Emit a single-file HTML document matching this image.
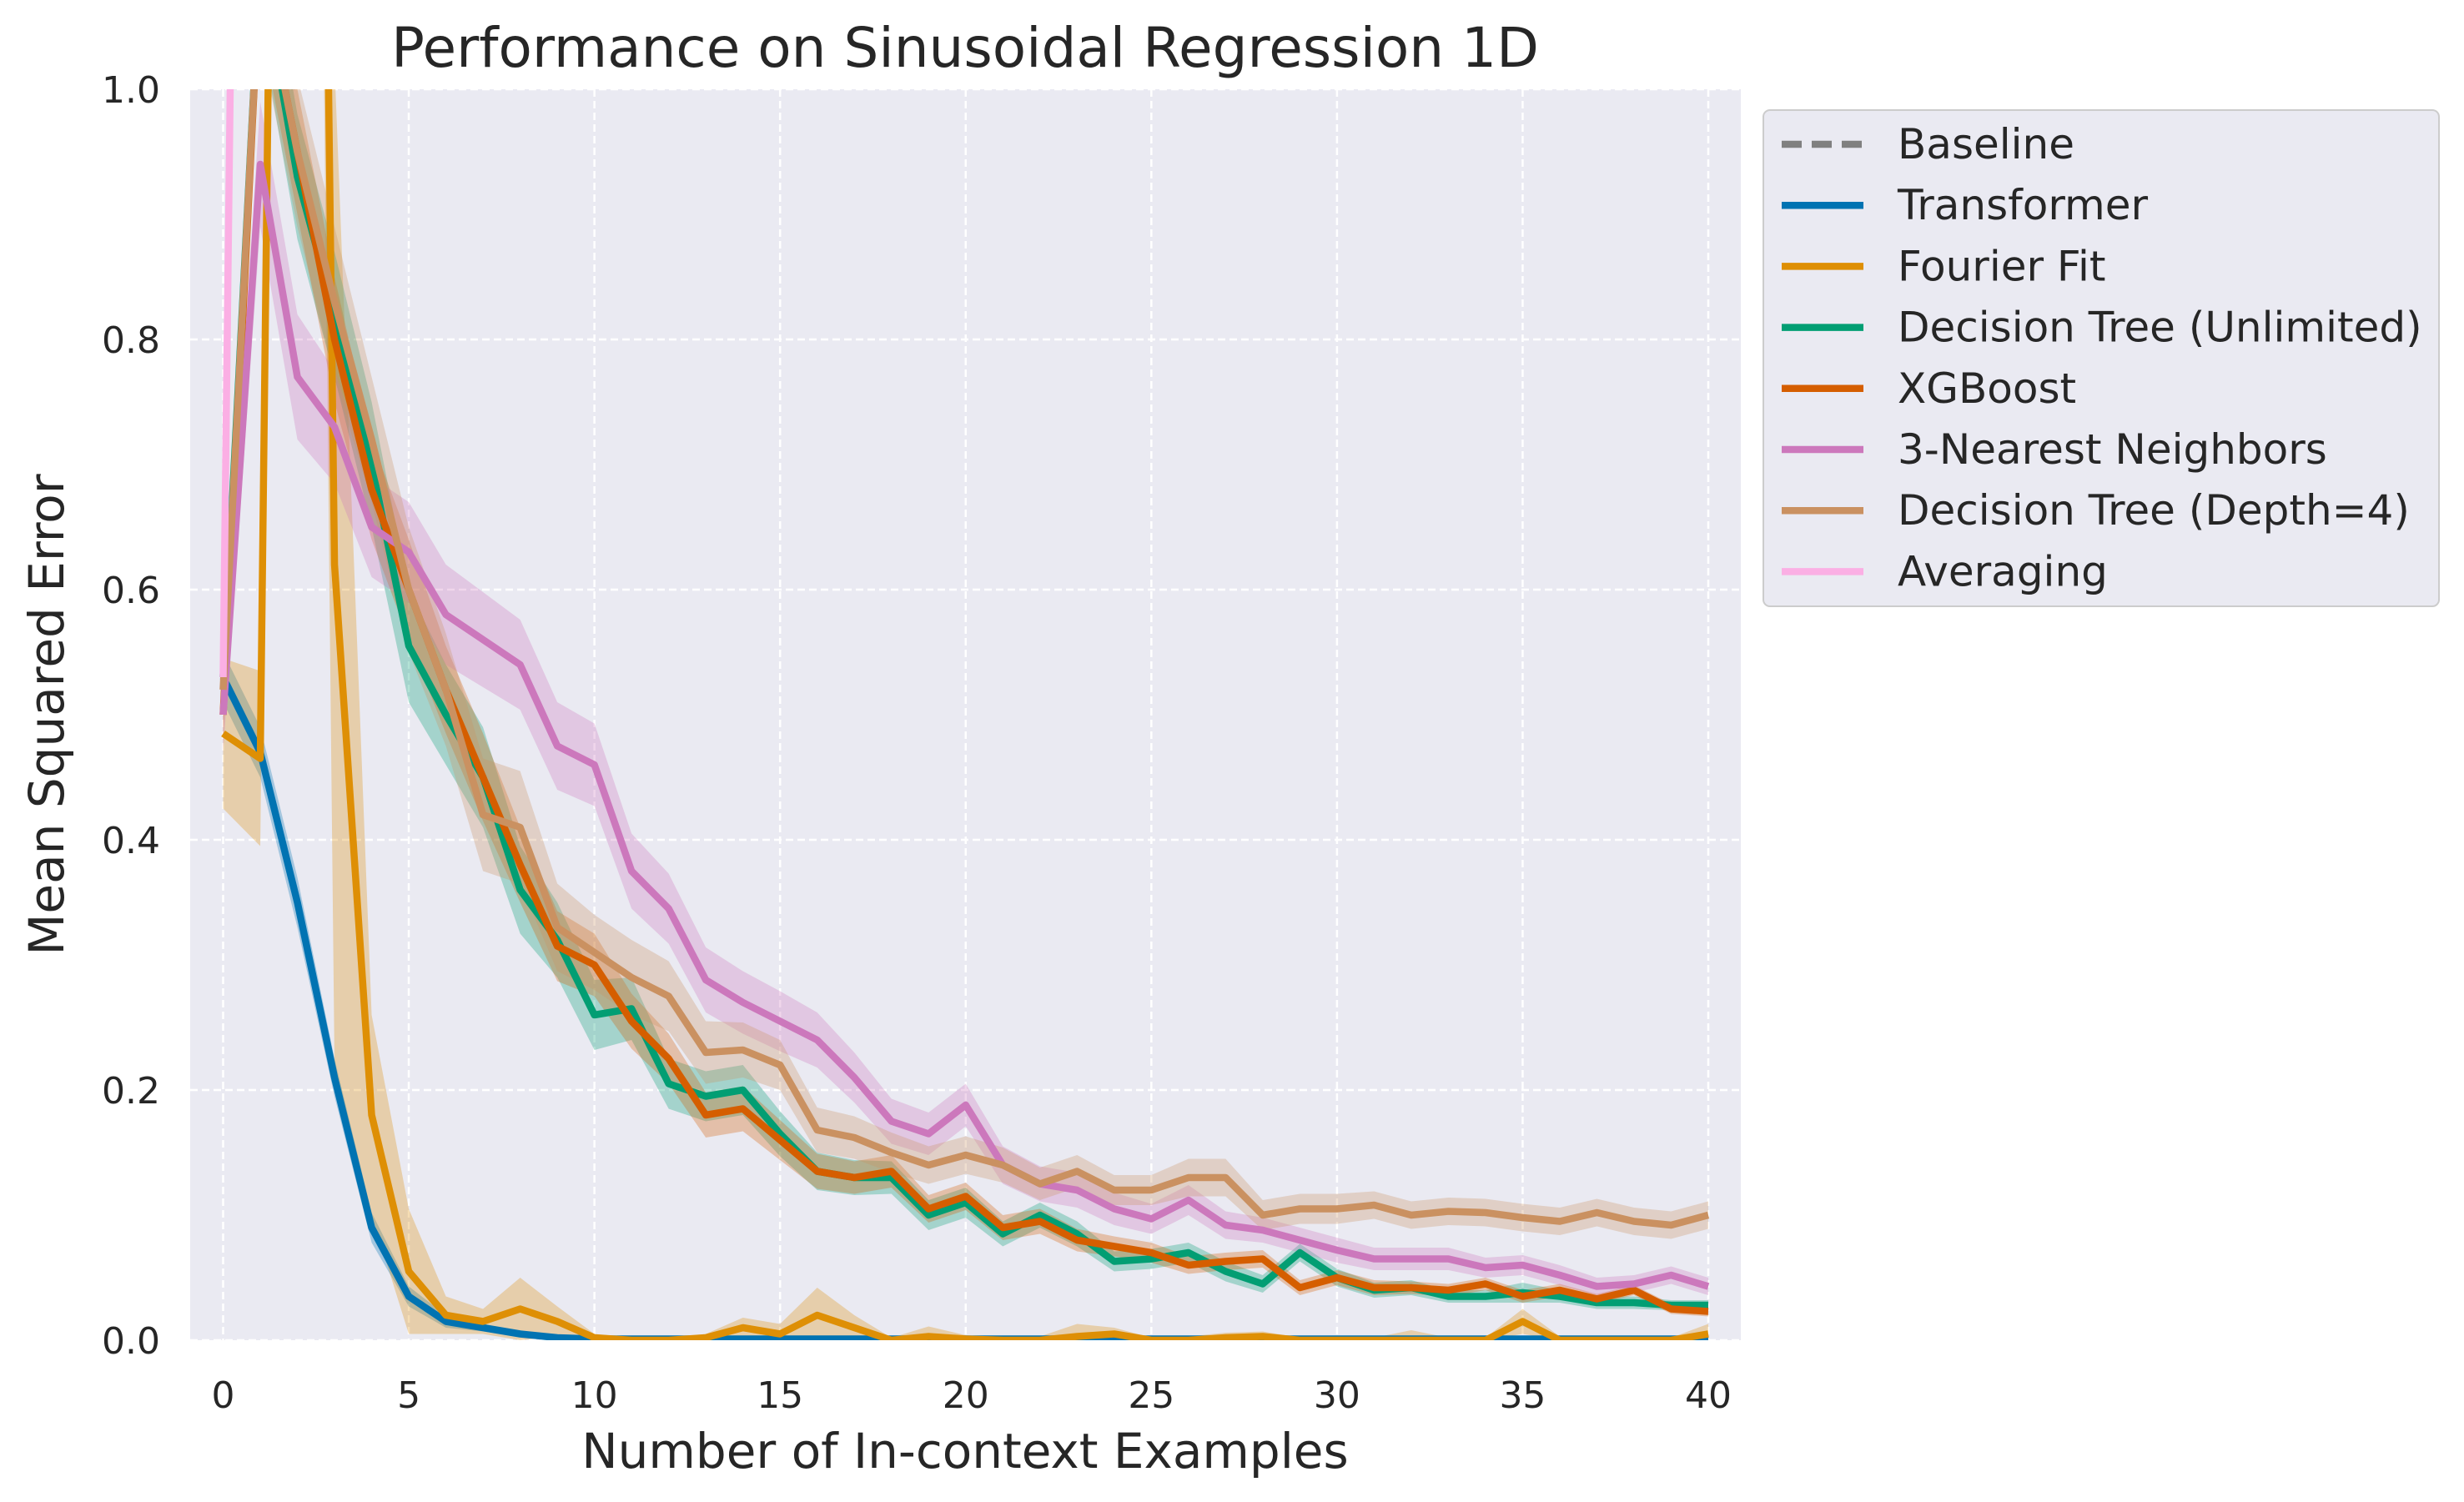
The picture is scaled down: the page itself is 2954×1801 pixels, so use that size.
<!DOCTYPE html>
<html><head><meta charset="utf-8"><style>
html,body{margin:0;padding:0;background:#fff}
svg{display:block;font-family:"DejaVu Sans","Liberation Sans",sans-serif}
</style></head><body>
<svg id="chart" width="2954" height="1801" viewBox="0 0 2954 1801" xmlns="http://www.w3.org/2000/svg">
<defs><clipPath id="plotclip"><rect x="228" y="107" width="1859" height="1500"/></clipPath></defs>
<rect x="228" y="107" width="1859" height="1500" fill="#eaeaf2"/>
<g id="grid"></g>
<g id="bands" clip-path="url(#plotclip)"></g>
<g id="lines" clip-path="url(#plotclip)"></g>
<g id="ticks" font-size="44" fill="#262626"></g>
<text x="1157" y="80" font-size="66" text-anchor="middle" fill="#262626">Performance on Sinusoidal Regression 1D</text>
<text x="1157" y="1760" font-size="58" text-anchor="middle" fill="#262626">Number of In-context Examples</text>
<text transform="translate(76,857) rotate(-90)" font-size="58" text-anchor="middle" fill="#262626">Mean Squared Error</text>
<g id="legend"></g>
</svg>
<script>
const xTicks=[0,5,10,15,20,25,30,35,40];
const yTicks=[0,0.2,0.4,0.6,0.8,1.0];
const yTickLabels=["0.0","0.2","0.4","0.6","0.8","1.0"];
const xs=[0,1,2,3,4,5,6,7,8,9,10,11,12,13,14,15,16,17,18,19,20,21,22,23,24,25,26,27,28,29,30,31,32,33,34,35,36,37,38,39,40];
const transformer=[0.53,0.47,0.35,0.21,0.09,0.035,0.015,0.01,0.005,0.002,0.001,0.001,0.001,0.001,0.001,0.001,0.001,0.001,0.001,0.001,0.001,0.001,0.001,0.001,0.001,0.001,0.001,0.001,0.001,0.001,0.001,0.001,0.001,0.001,0.001,0.001,0.001,0.001,0.001,0.001,0.001];
const transformerErr=[0.02,0.02,0.02,0.015,0.012,0.008,0.005,0.003,0.002,0.001,0,0,0,0,0,0,0,0,0,0,0,0,0,0,0,0,0,0,0,0,0,0,0,0,0,0,0,0,0,0,0];
const fourier=[0.485,0.465,10,0.62,0.18,0.055,0.02,0.015,0.025,0.015,0.002,0,0,0.002,0.01,0.005,0.02,0.01,0,0.003,0.001,0,0,0.003,0.005,0,0,0.002,0.003,0,0,0,0,0,0,0.015,0,0,0,0,0.005];
const fourierErr=[0.06,0.07,2,0.4,0.08,0.05,0.015,0.01,0.025,0.012,0.003,0.002,0.002,0.003,0.008,0.008,0.022,0.01,0.002,0.008,0.003,0.002,0.003,0.01,0.005,0.002,0.003,0.004,0.004,0.002,0.002,0.002,0.008,0.002,0.002,0.01,0.003,0.002,0.003,0.002,0.008];
const dtUnlimited=[0.53,1.1,0.93,0.82,0.7,0.555,0.5,0.45,0.36,0.32,0.26,0.265,0.205,0.195,0.2,0.165,0.135,0.13,0.13,0.1,0.11,0.085,0.1,0.085,0.063,0.065,0.07,0.055,0.045,0.07,0.05,0.04,0.042,0.035,0.035,0.038,0.035,0.03,0.03,0.028,0.028];
const dtUnlimitedErr=[0.02,0.05,0.05,0.05,0.05,0.045,0.04,0.04,0.035,0.03,0.028,0.025,0.02,0.02,0.02,0.018,0.015,0.014,0.013,0.012,0.012,0.01,0.01,0.01,0.008,0.008,0.008,0.008,0.007,0.007,0.007,0.006,0.006,0.005,0.005,0.008,0.005,0.005,0.005,0.004,0.004];
const xgboost=[0.5,1.1,0.95,0.8,0.68,0.6,0.52,0.45,0.38,0.315,0.3,0.255,0.225,0.18,0.185,0.16,0.135,0.13,0.135,0.105,0.115,0.09,0.095,0.08,0.075,0.07,0.06,0.063,0.065,0.042,0.05,0.042,0.042,0.04,0.045,0.035,0.04,0.033,0.04,0.025,0.023];
const xgboostErr=[0.02,0.05,0.05,0.05,0.04,0.04,0.035,0.035,0.03,0.028,0.025,0.022,0.02,0.018,0.018,0.016,0.014,0.013,0.013,0.011,0.011,0.01,0.01,0.009,0.008,0.008,0.007,0.007,0.007,0.006,0.006,0.006,0.005,0.005,0.005,0.005,0.005,0.004,0.004,0.004,0.004];
const knn3=[0.5,0.94,0.77,0.73,0.65,0.63,0.58,0.56,0.54,0.475,0.46,0.375,0.345,0.288,0.27,0.255,0.24,0.21,0.175,0.165,0.188,0.14,0.125,0.12,0.105,0.097,0.112,0.092,0.088,0.08,0.072,0.065,0.065,0.065,0.058,0.06,0.052,0.043,0.045,0.052,0.043];
const knn3Err=[0.03,0.05,0.05,0.045,0.04,0.04,0.04,0.038,0.036,0.035,0.033,0.03,0.028,0.026,0.025,0.024,0.022,0.02,0.018,0.017,0.017,0.015,0.014,0.014,0.013,0.012,0.012,0.011,0.01,0.01,0.01,0.009,0.009,0.009,0.008,0.008,0.008,0.007,0.007,0.007,0.007];
const dtDepth4=[0.52,1.1,0.95,0.83,0.72,0.6,0.52,0.42,0.41,0.33,0.31,0.29,0.275,0.23,0.232,0.22,0.168,0.162,0.15,0.14,0.148,0.14,0.125,0.135,0.12,0.12,0.13,0.13,0.1,0.105,0.105,0.108,0.1,0.103,0.102,0.098,0.095,0.102,0.095,0.092,0.1];
const dtDepth4Err=[0.02,0.06,0.06,0.06,0.05,0.05,0.045,0.045,0.045,0.035,0.03,0.03,0.028,0.025,0.022,0.02,0.018,0.017,0.016,0.015,0.015,0.014,0.013,0.013,0.012,0.012,0.015,0.015,0.012,0.012,0.012,0.011,0.011,0.011,0.011,0.011,0.011,0.011,0.011,0.011,0.011];
const averaging=[0.53,20,20,20,20,20,20,20,20,20,20,20,20,20,20,20,20,20,20,20,20,20,20,20,20,20,20,20,20,20,20,20,20,20,20,20,20,20,20,20,20];
const averagingErr=[0.02,1,1,1,1,1,1,1,1,1,1,1,1,1,1,1,1,1,1,1,1,1,1,1,1,1,1,1,1,1,1,1,1,1,1,1,1,1,1,1,1];
const legendLabels=["Baseline","Transformer","Fourier Fit","Decision Tree (Unlimited)","XGBoost","3-Nearest Neighbors","Decision Tree (Depth=4)","Averaging"];

const NS="http://www.w3.org/2000/svg";
const X0=267.5,X1=2048,Y0=1607,Y1=107;
const xScale=v=>X0+(v-0)/(40-0)*(X1-X0);
const yScale=v=>Y0+(v-0)/(1-0)*(Y1-Y0);
const yC=v=>yScale(Math.max(-0.5,Math.min(v,3)));
function mk(tag,attrs,parent){const e=document.createElementNS(NS,tag);for(const k in attrs)e.setAttribute(k,attrs[k]);parent.appendChild(e);return e;}

const grid=document.getElementById('grid'),ticks=document.getElementById('ticks');
xTicks.forEach(t=>{
  const l=mk('line',{x1:xScale(t),x2:xScale(t),y1:Y1,y2:Y0,stroke:'#fff','stroke-width':2.5,'stroke-dasharray':'9,5'},grid);
  
  
  const tx=mk('text',{x:xScale(t),y:1688,'text-anchor':'middle'},ticks);tx.textContent=t;
  
  
});
yTicks.forEach((t,i)=>{
  const l=mk('line',{x1:228,x2:2087,y1:yScale(t),y2:yScale(t),stroke:'#fff','stroke-width':2.5,'stroke-dasharray':'9,5'},grid);
  
  
  const tx=mk('text',{x:192,y:yScale(t)+16,'text-anchor':'end'},ticks);tx.textContent=yTickLabels[i];
  
  
});

const series=[
 {name:'transformer',v:transformer,e:transformerErr,c:'#0173b2'},
 {name:'fourier-fit',v:fourier,e:fourierErr,c:'#de8f05'},
 {name:'decision-tree-unlimited',v:dtUnlimited,e:dtUnlimitedErr,c:'#029e73'},
 {name:'xgboost',v:xgboost,e:xgboostErr,c:'#d55e00'},
 {name:'3-nearest-neighbors',v:knn3,e:knn3Err,c:'#cc78bc'},
 {name:'decision-tree-depth4',v:dtDepth4,e:dtDepth4Err,c:'#ca9161'},
 {name:'averaging',v:averaging,e:averagingErr,c:'#fbafe4'}
];
const bands=document.getElementById('bands'),lines=document.getElementById('lines');
series.forEach(s=>{
  let up=xs.map((x,i)=>xScale(x)+','+yC(s.v[i]+s.e[i]));
  let lo=xs.map((x,i)=>xScale(x)+','+yC(Math.max(0,s.v[i]-s.e[i]))).reverse();
  const b=mk('polygon',{points:up.concat(lo).join(' '),fill:s.c,'fill-opacity':0.3,stroke:'none'},bands);
  
  
});
series.forEach(s=>{
  const p=mk('polyline',{points:xs.map((x,i)=>xScale(x)+','+yC(s.v[i])).join(' '),fill:'none',stroke:s.c,'stroke-width':8.5,'stroke-linejoin':'round'},lines);
  
  
});

const lg=document.getElementById('legend');
const box=mk('rect',{x:2114,y:132,width:810,height:595,rx:8,fill:'#eaeaf2',stroke:'#ccc','stroke-width':2},lg);


const lcols=['#808080','#0173b2','#de8f05','#029e73','#d55e00','#cc78bc','#ca9161','#fbafe4'];
legendLabels.forEach((t,i)=>{
  const y=173+i*73.2;
  const g=mk('g',{},lg);
  
  
  mk('line',{x1:2136,x2:2234,y1:y,y2:y,stroke:lcols[i],'stroke-width':8.5,'stroke-dasharray':i===0?'24,12':'none'},g);
  const tx=mk('text',{x:2275,y:y+17,'font-size':50,fill:'#262626'},g);tx.textContent=t;
});
</script>
</body></html>
